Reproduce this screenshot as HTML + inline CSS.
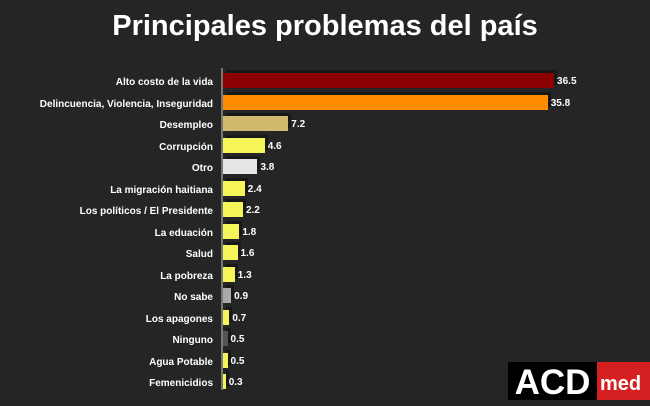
<!DOCTYPE html><html><head><style>
body{margin:0;width:650px;height:400px;background:#252525;overflow:hidden;font-family:"Liberation Sans",sans-serif;position:relative}
.t{position:absolute;top:10px;left:0;width:650px;text-align:center;color:#fff;font-weight:bold;font-size:29px}
.l{position:absolute;right:437px;color:#fff;font-weight:bold;font-size:10px;white-space:nowrap}
.b{position:absolute;left:223px;height:15px;box-shadow:3px -3px 0 rgba(0,0,0,0.35)}
.v{position:absolute;color:#fff;font-weight:bold;font-size:10px}
</style></head><body>
<div class="t">Principales problemas del país</div>
<div style="position:absolute;left:221px;top:68px;width:2px;height:322px;background:#777"></div>
<div id="c"></div>
<div style="position:absolute;left:508px;top:362px;width:89px;height:38px;background:#000;color:#fff;font-weight:bold;font-size:35px;line-height:42px;text-align:center">ACD</div>
<div style="position:absolute;left:597px;top:362px;width:53px;height:38px;background:#d42020;color:#fff;font-weight:bold;font-size:20px;line-height:44px;padding-left:3px">med</div>
<script>
var d=[["Alto costo de la vida",36.5,"#8b0000"],["Delincuencia, Violencia, Inseguridad",35.8,"#ff8c00"],["Desempleo",7.2,"#d2b96e"],["Corrupción",4.6,"#f5f55a"],["Otro",3.8,"#e6e6e6"],["La migración haitiana",2.4,"#f5f55a"],["Los políticos / El Presidente",2.2,"#f5f55a"],["La eduación",1.8,"#f5f55a"],["Salud",1.6,"#f5f55a"],["La pobreza",1.3,"#f5f55a"],["No sabe",0.9,"#aaaaaa"],["Los apagones",0.7,"#f5f55a"],["Ninguno",0.5,"#555555"],["Agua Potable",0.5,"#f5f55a"],["Femenicidios",0.3,"#f5f55a"]];
var h="";d.forEach(function(r,i){var y=80+i*21.5,w=r[1]*9.07;
h+='<div class="l" style="top:'+(y-3)+'px">'+r[0]+'</div><div class="b" style="top:'+(y-7)+'px;width:'+w+'px;background:'+r[2]+'"></div><div class="v" style="top:'+(y-4)+'px;left:'+(226+w)+'px">'+r[1]+'</div>';});
document.getElementById("c").innerHTML=h;
</script></body></html>
